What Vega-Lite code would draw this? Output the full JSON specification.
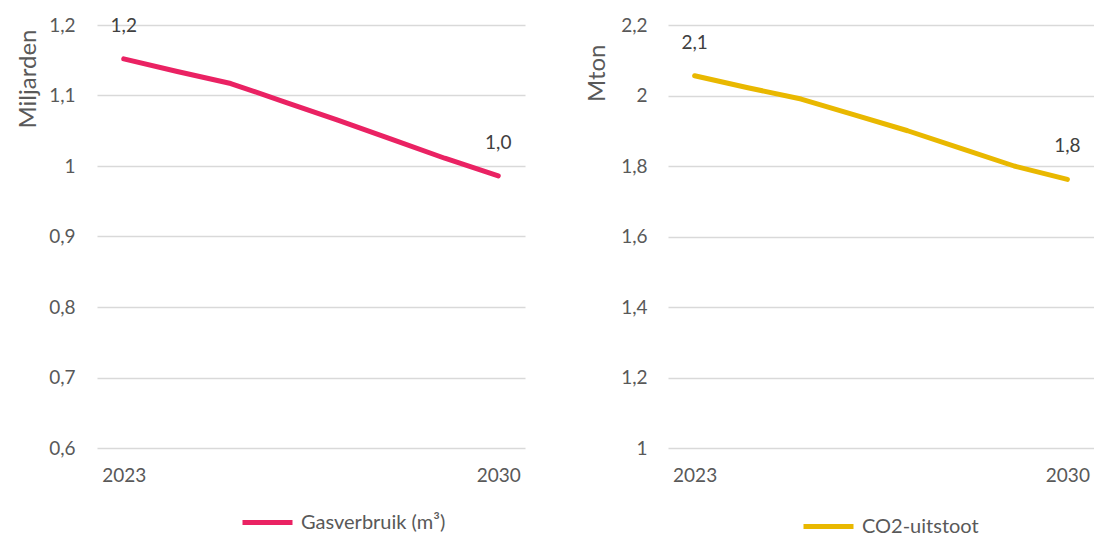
{
  "$schema": "https://vega.github.io/schema/vega-lite/v6.json",
  "padding": {"left": 16, "top": 16, "right": 0, "bottom": 0},
  "config": {
    "locale": {"number": {"decimal": ",", "thousands": ".", "grouping": [3], "currency": ["€ ", ""]}},
    "view": {"stroke": null},
    "font": "Lato",
    "concat": {"spacing": 60},
    "axis": {
      "labelColor": "#595959", "titleColor": "#595959",
      "labelFont": "Lato", "titleFont": "Lato",
      "labelFontSize": 19, "titleFontSize": 24, "titleFontWeight": "normal",
      "domain": false, "ticks": false,
      "gridColor": "#d9d9d9", "gridWidth": 1.5
    },
    "legend": {
      "labelColor": "#595959", "labelFont": "Lato", "labelFontSize": 20,
      "symbolType": "stroke", "symbolSize": 2500, "symbolStrokeWidth": 5, "labelOffset": 6
    }
  },
  "datasets": {
    "gas": [
      {"jaar": 2023, "waarde": 1.152, "label": true},
      {"jaar": 2024, "waarde": 1.134, "label": false},
      {"jaar": 2025, "waarde": 1.117, "label": false},
      {"jaar": 2026, "waarde": 1.091, "label": false},
      {"jaar": 2027, "waarde": 1.065, "label": false},
      {"jaar": 2028, "waarde": 1.038, "label": false},
      {"jaar": 2029, "waarde": 1.011, "label": false},
      {"jaar": 2030, "waarde": 0.986, "label": true}
    ],
    "co2": [
      {"jaar": 2023, "waarde": 2.056, "label": true},
      {"jaar": 2024, "waarde": 2.022, "label": false},
      {"jaar": 2025, "waarde": 1.99, "label": false},
      {"jaar": 2026, "waarde": 1.945, "label": false},
      {"jaar": 2027, "waarde": 1.9, "label": false},
      {"jaar": 2028, "waarde": 1.85, "label": false},
      {"jaar": 2029, "waarde": 1.8, "label": false},
      {"jaar": 2030, "waarde": 1.762, "label": true}
    ]
  },
  "hconcat": [
    {
      "width": 428, "height": 423,
      "data": {"name": "gas"},
      "encoding": {
        "x": {"field": "jaar", "type": "ordinal", "scale": {"type": "point", "padding": 0.5},
              "axis": {"title": null, "values": [2023, 2030], "labelAngle": 0, "labelPadding": 18, "grid": false}},
        "y": {"field": "waarde", "type": "quantitative",
              "scale": {"domain": [0.6, 1.2], "nice": false, "zero": false},
              "axis": {"title": "Miljarden", "values": [0.6, 0.7, 0.8, 0.9, 1.0, 1.1, 1.2], "format": ".1~f", "labelPadding": 22, "titlePadding": 8, "titleAnchor": "end", "titleY": 4}}
      },
      "layer": [
        {
          "mark": {"type": "line", "strokeWidth": 5, "strokeCap": "round", "strokeJoin": "round"},
          "encoding": {
            "color": {"datum": "Gasverbruik (m³)", "type": "nominal", "scale": {"range": ["#EA2263"]},
                      "legend": {"title": null, "orient": "none", "legendX": 143, "legendY": 470}}
          }
        },
        {
          "transform": [{"filter": "datum.label"}],
          "mark": {"type": "text", "dy": -33, "fontSize": 19, "color": "#404040", "font": "Lato"},
          "encoding": {"text": {"field": "waarde", "type": "quantitative", "format": ".1f"}}
        }
      ]
    },
    {
      "width": 426, "height": 423,
      "data": {"name": "co2"},
      "encoding": {
        "x": {"field": "jaar", "type": "ordinal", "scale": {"type": "point", "padding": 0.5},
              "axis": {"title": null, "values": [2023, 2030], "labelAngle": 0, "labelPadding": 18, "grid": false}},
        "y": {"field": "waarde", "type": "quantitative",
              "scale": {"domain": [1, 2.2], "nice": false, "zero": false},
              "axis": {"title": "Mton", "values": [1, 1.2, 1.4, 1.6, 1.8, 2.0, 2.2], "format": ".1~f", "labelPadding": 21, "titlePadding": 11, "titleAnchor": "end", "titleY": 19}}
      },
      "layer": [
        {
          "mark": {"type": "line", "strokeWidth": 5, "strokeCap": "round", "strokeJoin": "round"},
          "encoding": {
            "color": {"datum": "CO2-uitstoot", "type": "nominal", "scale": {"range": ["#E9B800"]},
                      "legend": {"title": null, "orient": "none", "legendX": 133, "legendY": 474}}
          }
        },
        {
          "transform": [{"filter": "datum.label"}],
          "mark": {"type": "text", "dy": -33, "fontSize": 19, "color": "#404040", "font": "Lato"},
          "encoding": {"text": {"field": "waarde", "type": "quantitative", "format": ".1f"}}
        }
      ]
    }
  ],
  "resolve": {"scale": {"color": "independent"}}
}
